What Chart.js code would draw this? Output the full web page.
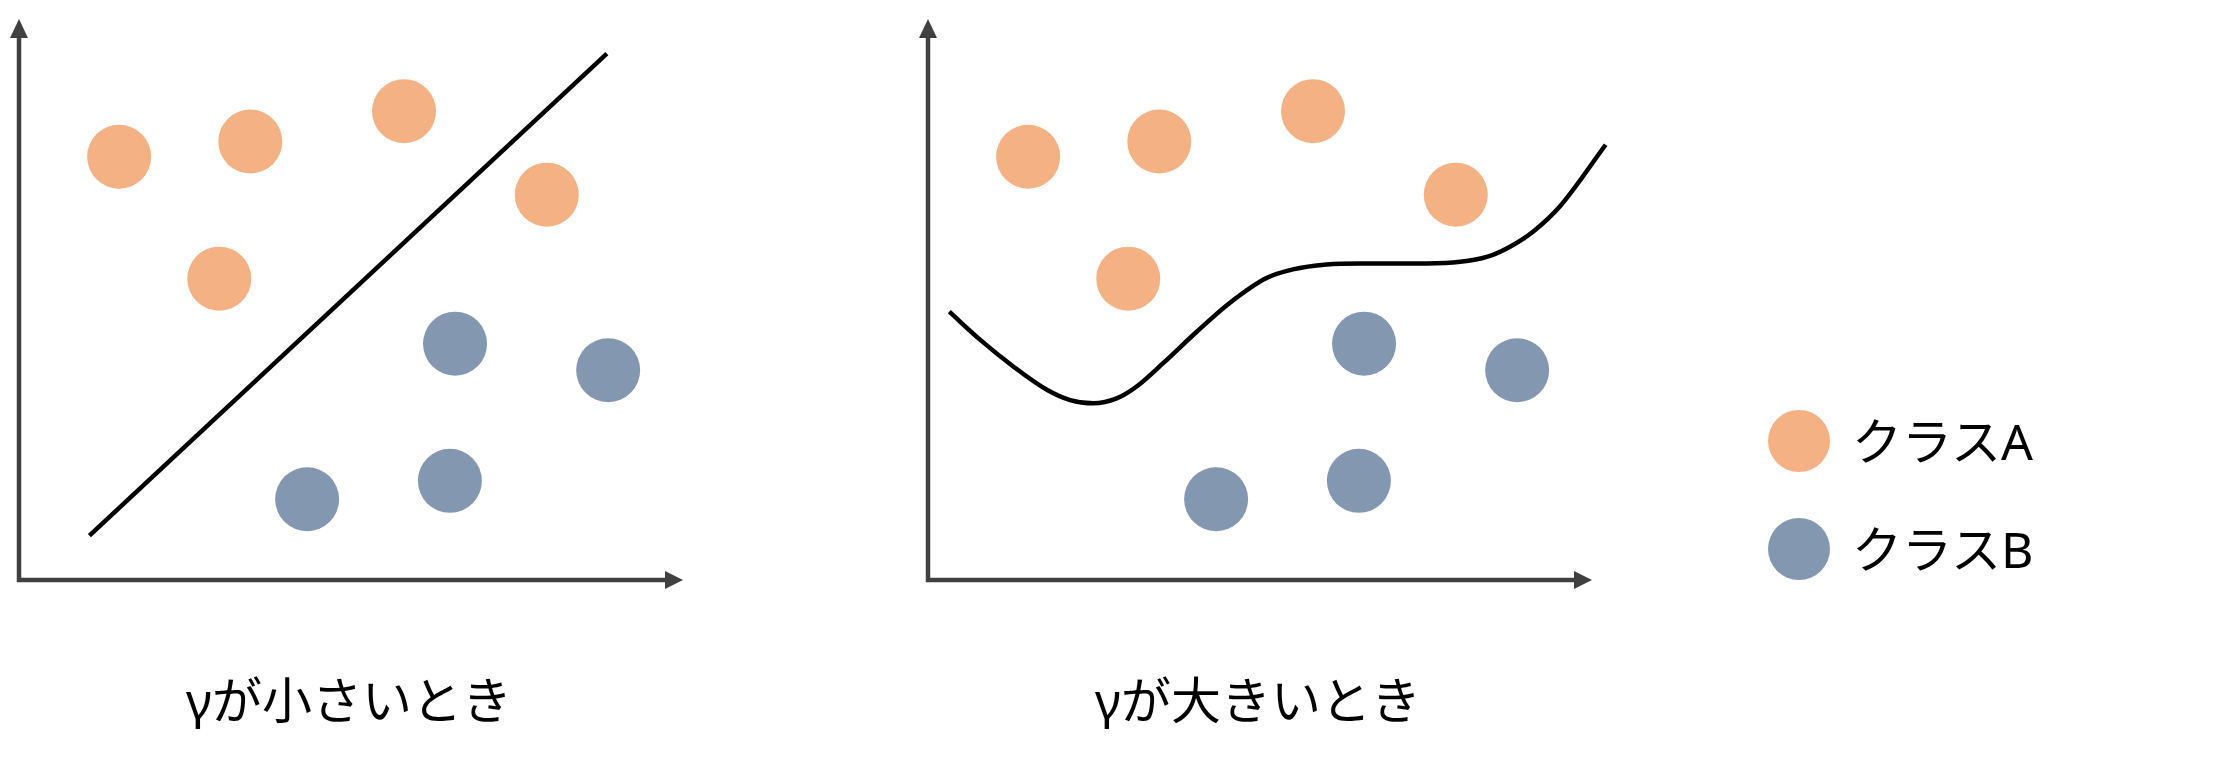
<!DOCTYPE html>
<html>
<head>
<meta charset="utf-8">
<script src="https://cdn.jsdelivr.net/npm/chart.js@4/dist/chart.umd.min.js"></script>
<style>
  html, body { margin: 0; padding: 0; background: #fff; }
  body { width: 2217px; height: 764px; position: relative; overflow: hidden;
         font-family: "Noto Sans", "Noto Sans CJK JP", sans-serif; color: #000; }
  .panel { position: absolute; top: 0; height: 620px; }
  .caption { position: absolute; width: 600px; height: 70px; line-height: 70px;
             text-align: center; font-size: 50px; }
  .legend-row { position: absolute; left: 1768px; height: 62px; display: flex; align-items: center; }
  .legend-dot { width: 62px; height: 62px; border-radius: 50%; }
  .legend-text { font-size: 50px; margin-left: 22px; line-height: 62px; }
</style>
</head>
<body>
<div class="panel" style="left:0;width:720px"><canvas id="leftChart"></canvas></div>
<div class="panel" style="left:880px;width:740px"><canvas id="rightChart"></canvas></div>
<div id="capLeft" class="caption" style="left:49px;top:665px"></div>
<div id="capRight" class="caption" style="left:958px;top:665px"></div>
<div id="legend"></div>

<script>
// 点の位置（両パネル共通）
const classAX = [1.55, 3.58, 5.96, 8.17, 3.10];
const classAY = [7.81, 8.09, 8.65, 7.11, 5.56];
const classBX = [6.75, 9.12, 4.46, 6.67];
const classBY = [4.36, 3.87, 1.49, 1.83];

// γが小さいとき: 直線の境界
const lineX = [1.09, 9.10];
const lineY = [0.82, 9.71];

// γが大きいとき: 曲線の境界
const curveX = [0.33, 0.80, 1.32, 1.84, 2.20, 2.56, 2.92, 3.23, 3.64, 4.16, 4.67, 5.24,
                5.65, 6.17, 6.69, 7.20, 7.72, 8.24, 8.65, 9.01, 9.37, 9.78, 10.49];
const curveY = [4.95, 4.44, 3.94, 3.51, 3.32, 3.26, 3.35, 3.57, 4.00, 4.58, 5.11, 5.57,
                5.73, 5.82, 5.84, 5.84, 5.84, 5.87, 5.96, 6.15, 6.43, 6.89, 8.03];

const seriesNames = ['クラスA', 'クラスB'];
const panelTitles = ['γが小さいとき', 'γが大きいとき'];

const colorA = '#F4B183';
const colorB = '#8497B0';
const axisColor = '#404040';

function toPoints(xs, ys) {
  return xs.map((x, i) => ({ x: x, y: ys[i] }));
}

// 矢印付きの軸を描く
const arrowAxes = {
  id: 'arrowAxes',
  beforeDatasetsDraw(chart) {
    const ctx = chart.ctx;
    const x = chart.scales.x, y = chart.scales.y;
    const x0 = x.getPixelForValue(0), x1 = x.getPixelForValue(10);
    const y0 = y.getPixelForValue(0), y1 = y.getPixelForValue(10);
    ctx.save();
    ctx.strokeStyle = axisColor;
    ctx.fillStyle = axisColor;
    ctx.lineWidth = 4.5;
    ctx.beginPath();
    ctx.moveTo(x0, y0 + 2);
    ctx.lineTo(x0, y1);
    ctx.moveTo(x0 - 2, y0);
    ctx.lineTo(x1, y0);
    ctx.stroke();
    ctx.beginPath();
    ctx.moveTo(x0 - 9, y1);
    ctx.lineTo(x0 + 9, y1);
    ctx.lineTo(x0, y1 - 19);
    ctx.closePath();
    ctx.fill();
    ctx.beginPath();
    ctx.moveTo(x1, y0 - 9);
    ctx.lineTo(x1, y0 + 9);
    ctx.lineTo(x1 + 18, y0);
    ctx.closePath();
    ctx.fill();
    ctx.restore();
  }
};

function makePanel(id, bx, by, padding, smooth) {
  const ctx = document.getElementById(id).getContext('2d');
  return new Chart(ctx, {
    type: 'scatter',
    data: {
      datasets: [
        {
          label: seriesNames[0],
          data: toPoints(classAX, classAY),
          backgroundColor: colorA,
          borderWidth: 0,
          pointRadius: 32,
          pointHoverRadius: 32,
          clip: false
        },
        {
          label: seriesNames[1],
          data: toPoints(classBX, classBY),
          backgroundColor: colorB,
          borderWidth: 0,
          pointRadius: 32,
          pointHoverRadius: 32,
          clip: false
        },
        {
          type: 'line',
          label: 'boundary',
          data: toPoints(bx, by),
          borderColor: '#000',
          borderWidth: 4.5,
          pointRadius: 0,
          fill: false,
          cubicInterpolationMode: smooth ? 'monotone' : 'default',
          tension: 0,
          clip: false
        }
      ]
    },
    options: {
      responsive: true,
      maintainAspectRatio: false,
      animation: false,
      events: [],
      layout: { padding: padding, autoPadding: false },
      plugins: { legend: { display: false }, tooltip: { enabled: false } },
      scales: {
        x: { type: 'linear', min: 0, max: 10, display: false },
        y: { type: 'linear', min: 0, max: 10, display: false }
      }
    },
    plugins: [arrowAxes]
  });
}

makePanel('leftChart', lineX, lineY, { left: 19, right: 55, top: 38, bottom: 40 }, false);
makePanel('rightChart', curveX, curveY, { left: 48, right: 46, top: 38, bottom: 40 }, true);

document.getElementById('capLeft').textContent = panelTitles[0];
document.getElementById('capRight').textContent = panelTitles[1];

// 凡例
const legend = document.getElementById('legend');
[colorA, colorB].forEach((c, i) => {
  const row = document.createElement('div');
  row.className = 'legend-row';
  row.style.top = (410 + i * 108) + 'px';
  const dot = document.createElement('div');
  dot.className = 'legend-dot';
  dot.style.background = c;
  const txt = document.createElement('span');
  txt.className = 'legend-text';
  txt.textContent = seriesNames[i];
  row.appendChild(dot);
  row.appendChild(txt);
  legend.appendChild(row);
});
</script>
</body>
</html>
